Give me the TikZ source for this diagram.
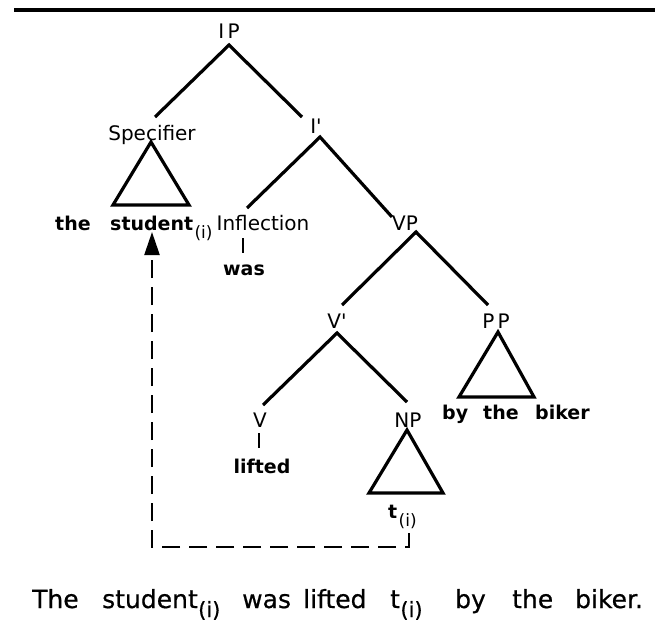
\documentclass[tikz,border=0pt]{standalone}
\usepackage{fontspec}
\setmainfont{DejaVu Sans}
\newfontfamily\labfont{DejaVu Sans}
\newfontfamily\sentfont{DejaVu Sans}[FakeBold=0.6]
\usetikzlibrary{arrows.meta}
\begin{document}
\begin{tikzpicture}[x=1pt,y=-1pt,
  lab/.style={font=\labfont\fontsize{20}{20}\selectfont, inner sep=0pt, anchor=base},
  wd/.style={font=\fontsize{19}{19}\selectfont\bfseries, inner sep=0pt, anchor=base},
  wdw/.style={wd, anchor=base west},
  subs/.style={font=\fontsize{17}{17}\selectfont, inner sep=0pt, anchor=base west},
  sent/.style={font=\sentfont\fontsize{25}{25}\selectfont, inner sep=0pt, anchor=base west},
  ssub/.style={font=\sentfont\fontsize{21}{21}\selectfont, inner sep=0pt, anchor=base west},
  branch/.style={line width=3.2pt, line cap=butt},
  tri/.style={line width=3.2pt, line join=miter},
  tick/.style={line width=2.6pt},
  mv/.style={line width=2.3pt, dash pattern=on 18pt off 9pt, -{Triangle[length=23pt,width=15pt]}}]
\useasboundingbox (0,0) rectangle (655,626);

% top rule
\coordinate (r1) at (14,10);
\coordinate (r2) at (655,10);
\draw[line width=4.5pt] (r1) -- (r2);

% labels
\node[lab] (IP) at (229,38) {I\,P};
\node[lab] (Spec) at (152,140) {Specifier};
\node[lab] (Ibar) at (316,133) {I'};
\node[lab] (Infl) at (263,230) {Inflection};
\node[lab] (VP) at (405,230) {VP};
\node[lab] (Vbar) at (337,328) {V'};
\node[lab] (PP) at (496,328) {P\,P};
\node[lab] (V) at (260,427) {V};
\node[lab] (NP) at (408,427) {NP};

% words in the tree
\node[wdw] (the1) at (55,230) {the};
\node[wdw] (stud) at (110,230) {student};
\node[subs] (sub1) at ([xshift=1pt,yshift=-8pt]stud.base east) {(i)};
\node[wd] (was) at (244,275) {was};
\node[wd] (lifted) at (262,473) {lifted};
\node[wdw] (by) at (442,419) {by};
\node[wdw] (the2) at (483,419) {the};
\node[wdw] (biker) at (535,419) {biker};
\node[wdw] (t) at (388,518) {t};
\node[subs] (sub2) at ([xshift=1pt,yshift=-8pt]t.base east) {(i)};

% branch points
\coordinate (IPa) at (229,45);
\coordinate (SpecT) at (155,117);
\coordinate (IbarT) at (302,117);
\coordinate (Ibara) at (320,137);
\coordinate (InflT) at (247,208);
\coordinate (VPT) at (392,217);
\coordinate (VPa) at (416,232);
\coordinate (VbarT) at (342,305);
\coordinate (PPT) at (488,305);
\coordinate (Vbara) at (337,333);
\coordinate (VT) at (263,405);
\coordinate (NPT) at (407,402);

\draw[branch] (SpecT) -- (IPa) -- (IbarT);
\draw[branch] (InflT) -- (Ibara) -- (VPT);
\draw[branch] (VbarT) -- (VPa) -- (PPT);
\draw[branch] (VT) -- (Vbara) -- (NPT);

% triangles
\coordinate (s1) at (151,142); \coordinate (s2) at (113,205); \coordinate (s3) at (189,205);
\draw[tri] (s1) -- (s2) -- (s3) -- cycle;
\coordinate (p1) at (498,332); \coordinate (p2) at (459,397); \coordinate (p3) at (534,397);
\draw[tri] (p1) -- (p2) -- (p3) -- cycle;
\coordinate (n1) at (407,430); \coordinate (n2) at (369,493); \coordinate (n3) at (443,493);
\draw[tri] (n1) -- (n2) -- (n3) -- cycle;

% ticks
\coordinate (k1) at (243,238); \coordinate (k2) at (243,253);
\draw[tick] (k1) -- (k2);
\coordinate (k3) at (259,433); \coordinate (k4) at (259,448);
\draw[tick] (k3) -- (k4);

% movement arrow
\coordinate (m0) at (409,533);
\coordinate (m1) at (409,547);
\coordinate (m2) at (152,547);
\coordinate (m3) at (152,232);
\draw[mv] (m0) -- (m1) -- (m2) -- (m3);

% sentence
\node[sent] (w1) at (32,608) {The};
\node[sent] (w2) at (102,608) {student};
\node[ssub] (w2s) at ([xshift=0pt,yshift=-9pt]w2.base east) {(i)};
\node[sent] (w3) at (242,608) {was};
\node[sent] (w4) at (303,608) {lifted};
\node[sent] (w5) at (390,608) {t};
\node[ssub] (w5s) at ([xshift=0pt,yshift=-9pt]w5.base east) {(i)};
\node[sent] (w6) at (455,608) {by};
\node[sent] (w7) at (512,608) {the};
\node[sent] (w8) at (575,608) {biker.};
\end{tikzpicture}
\end{document}
